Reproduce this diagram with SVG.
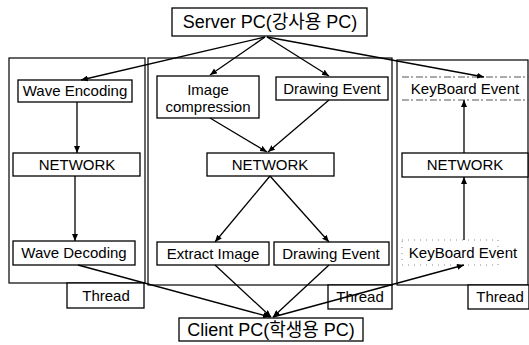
<svg xmlns="http://www.w3.org/2000/svg" width="529" height="345" viewBox="0 0 529 345">
<defs>
<marker id="ah" markerUnits="userSpaceOnUse" markerWidth="8" markerHeight="6" refX="7" refY="3" orient="auto">
<path d="M0,0 L7,3 L0,6 z" fill="#000"/>
</marker>
<style>
.bx{fill:#fff;stroke:#000;stroke-width:1.3}
.pn{fill:none;stroke:#000;stroke-width:1.2}
.t{font-family:"Liberation Sans","Noto Sans CJK KR",sans-serif;font-size:15px;fill:#000;text-anchor:middle}
.big{font-size:18px}
.ln{stroke:#000;stroke-width:1.3;fill:none;marker-end:url(#ah)}
.dash{stroke:#555;stroke-width:1;stroke-dasharray:7 2 2 3;fill:none}
.dot{stroke:#888;stroke-width:1;stroke-dasharray:1 5;fill:none}
</style>
</defs>
<rect width="529" height="345" fill="#fff"/>
<g id="panels">
<rect class="pn" x="9" y="58" width="136" height="225"/>
<rect class="pn" x="148" y="58" width="244" height="227"/>
<rect class="pn" x="397" y="60" width="131" height="225"/>
</g>
<g id="thread1"><rect class="bx" x="67" y="283" width="77" height="25"/><text class="t" x="106" y="301">Thread</text></g>
<g id="thread2"><rect class="bx" x="328" y="285" width="64" height="24"/><text class="t" x="360" y="302">Thread</text></g>
<g id="thread3"><rect class="bx" x="468" y="285" width="61" height="24"/><text class="t" x="500" y="302">Thread</text></g>
<g id="server"><rect class="bx" x="172" y="8" width="195" height="28"/><text class="t big" x="270" y="28">Server PC(강사용 PC)</text></g>
<g id="client"><rect class="bx" x="179" y="318" width="184" height="23"/><text class="t big" x="271" y="336">Client PC(학생용 PC)</text></g>
<g id="waveEnc"><rect class="bx" x="18" y="80" width="114" height="22"/><text class="t" x="75" y="96">Wave Encoding</text></g>
<g id="net1"><rect class="bx" x="13" y="153" width="127" height="23"/><text class="t" x="77" y="170">NETWORK</text></g>
<g id="waveDec"><rect class="bx" x="13" y="241" width="122" height="24"/><text class="t" x="74" y="258">Wave Decoding</text></g>
<g id="imgComp"><rect class="bx" x="157" y="76" width="102" height="42"/><text class="t" x="208" y="95">Image</text><text class="t" x="208" y="112">compression</text></g>
<g id="drawEv1"><rect class="bx" x="276" y="77" width="112" height="23"/><text class="t" x="332" y="94">Drawing Event</text></g>
<g id="net2"><rect class="bx" x="207" y="153" width="127" height="23"/><text class="t" x="270" y="170">NETWORK</text></g>
<g id="extract"><rect class="bx" x="157" y="242" width="112" height="23"/><text class="t" x="213" y="259">Extract Image</text></g>
<g id="drawEv2"><rect class="bx" x="274" y="242" width="115" height="23"/><text class="t" x="331" y="259">Drawing Event</text></g>
<g id="keyEv1"><path class="dash" d="M402,77 H529 M402,100 H529"/><text class="t" x="465" y="94">KeyBoard Event</text></g>
<g id="net3"><rect class="bx" x="402" y="153" width="126" height="24"/><text class="t" x="465" y="170">NETWORK</text></g>
<g id="keyEv2"><rect class="dot" x="402" y="240" width="96" height="25"/><text class="t" x="463" y="258">KeyBoard Event</text></g>
<g id="connectors">
<line class="ln" x1="265" y1="37" x2="81" y2="80"/>
<line class="ln" x1="265" y1="37" x2="210" y2="75"/>
<line class="ln" x1="267" y1="37" x2="329" y2="76"/>
<line class="ln" x1="267" y1="37" x2="484" y2="77"/>
<line class="ln" x1="77" y1="102" x2="77" y2="153"/>
<line class="ln" x1="210" y1="118" x2="267" y2="152"/>
<line class="ln" x1="329" y1="100" x2="268" y2="152"/>
<line class="ln" x1="270" y1="176" x2="215" y2="242"/>
<line class="ln" x1="270" y1="176" x2="329" y2="242"/>
<line class="ln" x1="75" y1="176" x2="75" y2="241"/>
<line class="ln" x1="78" y1="265" x2="270" y2="317"/>
<line class="ln" x1="215" y1="265" x2="271" y2="317"/>
<line class="ln" x1="329" y1="265" x2="273" y2="317"/>
<line class="ln" x1="273" y1="317" x2="464" y2="265"/>
<line class="ln" x1="464" y1="240" x2="464" y2="177"/>
<line class="ln" x1="464" y1="153" x2="464" y2="100"/>
</g>
</svg>
